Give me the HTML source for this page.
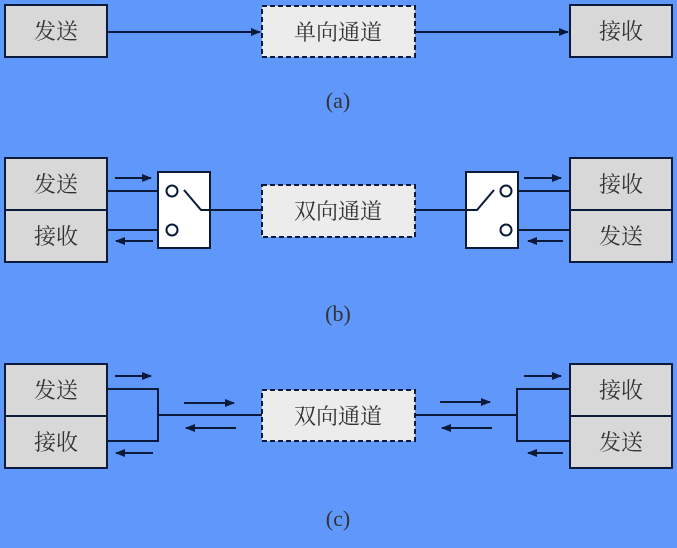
<!DOCTYPE html>
<html><head><meta charset="utf-8"><style>
html,body{margin:0;padding:0;background:#5f97fb;}
svg{display:block}
text{font-family:"Liberation Serif","Noto Serif CJK SC",serif;fill:#333;}
</style></head><body>
<svg width="677" height="548" viewBox="0 0 677 548" xmlns="http://www.w3.org/2000/svg">
<defs>
<marker id="ah" markerWidth="10" markerHeight="8" refX="9" refY="4" orient="auto" markerUnits="userSpaceOnUse">
<path d="M0,0 L10,4 L0,8 Z" fill="#0a1a3a"/></marker>
</defs>
<rect width="677" height="548" fill="#5f97fb"/>
<g stroke="#0a1a3a" stroke-width="2" fill="none">
<!-- (a) -->
<line x1="107" y1="32" x2="260" y2="32" marker-end="url(#ah)"/>
<line x1="415" y1="32" x2="568" y2="32" marker-end="url(#ah)"/>
<!-- (b) -->
<line x1="107" y1="191" x2="167" y2="191"/>
<line x1="107" y1="230" x2="167" y2="230"/>
<line x1="115" y1="178" x2="151" y2="178" marker-end="url(#ah)"/>
<line x1="153" y1="241" x2="116" y2="241" marker-end="url(#ah)"/>
<line x1="210" y1="210" x2="262" y2="210"/>
<line x1="415" y1="210" x2="466" y2="210"/>
<line x1="511" y1="191" x2="570" y2="191"/>
<line x1="511" y1="230" x2="570" y2="230"/>
<line x1="524" y1="178" x2="561" y2="178" marker-end="url(#ah)"/>
<line x1="563" y1="241" x2="528" y2="241" marker-end="url(#ah)"/>
<!-- (c) -->
<polyline points="107,389 158,389 158,441 107,441"/>
<line x1="158" y1="415" x2="262" y2="415"/>
<line x1="115" y1="376" x2="151" y2="376" marker-end="url(#ah)"/>
<line x1="153" y1="453" x2="116" y2="453" marker-end="url(#ah)"/>
<line x1="184" y1="403" x2="234" y2="403" marker-end="url(#ah)"/>
<line x1="236" y1="428" x2="186" y2="428" marker-end="url(#ah)"/>
<polyline points="570,389 517,389 517,441 570,441"/>
<line x1="415" y1="415" x2="517" y2="415"/>
<line x1="524" y1="376" x2="561" y2="376" marker-end="url(#ah)"/>
<line x1="563" y1="453" x2="528" y2="453" marker-end="url(#ah)"/>
<line x1="440" y1="402" x2="490" y2="402" marker-end="url(#ah)"/>
<line x1="492" y1="428" x2="442" y2="428" marker-end="url(#ah)"/>
</g>
<g stroke="#0a1a3a" stroke-width="2" fill="#d8d8d8">
<rect x="5" y="5" width="102" height="52"/>
<rect x="570" y="5" width="102" height="52"/>
<rect x="5" y="158" width="102" height="52"/>
<rect x="5" y="210" width="102" height="52"/>
<rect x="570" y="158" width="102" height="52"/>
<rect x="570" y="210" width="102" height="52"/>
<rect x="5" y="364" width="102" height="52"/>
<rect x="5" y="416" width="102" height="52"/>
<rect x="570" y="364" width="102" height="52"/>
<rect x="570" y="416" width="102" height="52"/>
</g>
<g stroke="#0a1a3a" stroke-width="2" stroke-dasharray="5,3" fill="#ececec">
<rect x="262" y="6" width="153" height="51"/>
<rect x="262" y="185" width="153" height="52"/>
<rect x="262" y="390" width="153" height="51"/>
</g>
<!-- switches -->
<g stroke="#0a1a3a" stroke-width="2" fill="#fff">
<rect x="158" y="172" width="52" height="76"/>
<rect x="466" y="172" width="52" height="76"/>
</g>
<g stroke="#0a1a3a" stroke-width="2" fill="#fff">
<circle cx="172" cy="191" r="5.5"/>
<circle cx="172" cy="230" r="5.5"/>
<circle cx="506" cy="191" r="5.5"/>
<circle cx="506" cy="230" r="5.5"/>
</g>
<g stroke="#0a1a3a" stroke-width="2" fill="none">
<polyline points="184,190 201,210 210,210"/>
<polyline points="494,190 477,210 466,210"/>
</g>
<g font-size="22" text-anchor="middle">
<text x="56" y="39">发送</text>
<text x="338" y="40">单向通道</text>
<text x="621" y="39">接收</text>
<text x="56" y="192">发送</text>
<text x="56" y="244">接收</text>
<text x="338" y="219">双向通道</text>
<text x="621" y="192">接收</text>
<text x="621" y="244">发送</text>
<text x="56" y="398">发送</text>
<text x="56" y="450">接收</text>
<text x="338" y="424">双向通道</text>
<text x="621" y="398">接收</text>
<text x="621" y="450">发送</text>
<text x="338" y="108">(a)</text>
<text x="338" y="321">(b)</text>
<text x="338" y="526">(c)</text>
</g>
</svg>
</body></html>
